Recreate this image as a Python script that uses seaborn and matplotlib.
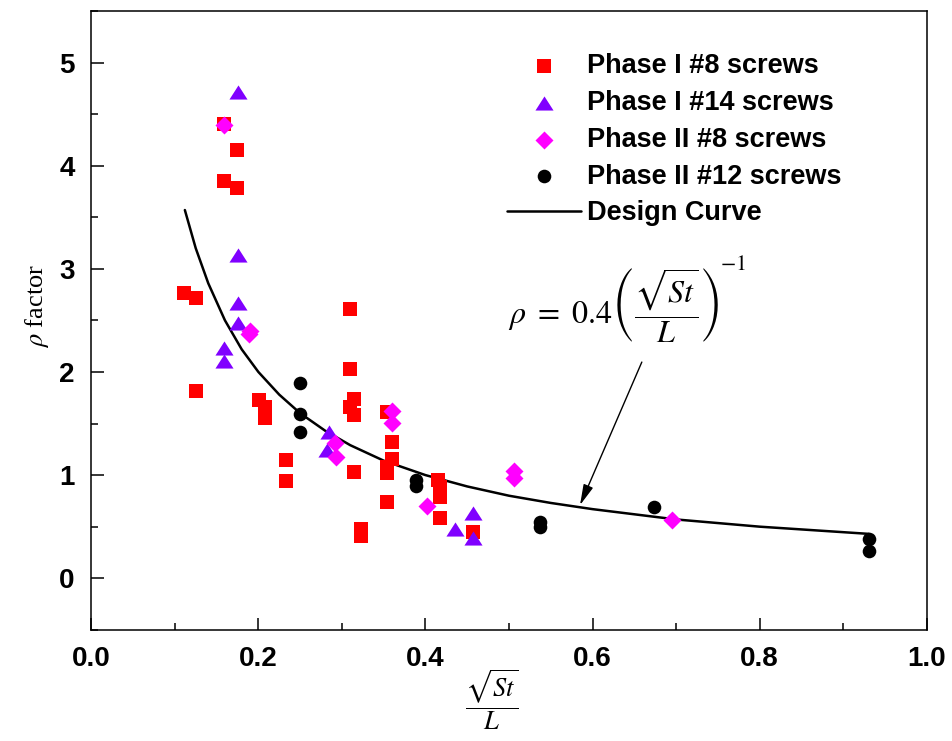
import numpy as np
import pandas as pd
import matplotlib
matplotlib.use("Agg")
import matplotlib.pyplot as plt
from matplotlib.path import Path
import seaborn as sns

# ---- data ----
p1_8_x = [0.159, 0.175, 0.159, 0.175, 0.111, 0.125, 0.310, 0.310, 0.125, 0.201,
          0.208, 0.208, 0.314, 0.310, 0.314, 0.233, 0.233, 0.314, 0.323, 0.323,
          0.354, 0.360, 0.360, 0.354, 0.354, 0.354, 0.415, 0.417, 0.417, 0.417, 0.457]
p1_8_y = [4.40, 4.15, 3.85, 3.78, 2.77, 2.72, 2.61, 2.03, 1.82, 1.73,
          1.66, 1.55, 1.74, 1.66, 1.58, 1.15, 0.94, 1.03, 0.48, 0.41,
          1.61, 1.32, 1.16, 1.08, 1.02, 0.74, 0.95, 0.88, 0.79, 0.58, 0.45]

p1_14_x = [0.176, 0.176, 0.176, 0.176, 0.159, 0.159, 0.284, 0.282, 0.435, 0.457, 0.457]
p1_14_y = [4.71, 3.13, 2.67, 2.47, 2.23, 2.11, 1.42, 1.24, 0.48, 0.63, 0.39]

p2_8_x = [0.159, 0.189, 0.190, 0.292, 0.293, 0.360, 0.360, 0.402, 0.506, 0.506, 0.695]
p2_8_y = [4.39, 2.37, 2.40, 1.31, 1.18, 1.62, 1.51, 0.70, 1.04, 0.97, 0.56]

p2_12_x = [0.250, 0.250, 0.250, 0.389, 0.389, 0.537, 0.537, 0.674, 0.931, 0.931]
p2_12_y = [1.89, 1.59, 1.42, 0.95, 0.89, 0.55, 0.50, 0.69, 0.38, 0.26]

design_x = [0.112, 0.125, 0.14, 0.16, 0.18, 0.20, 0.225, 0.25, 0.28, 0.31,
            0.35, 0.40, 0.45, 0.50, 0.55, 0.60, 0.65, 0.70, 0.80, 0.931]
design_y = [3.57, 3.20, 2.86, 2.50, 2.22, 2.00, 1.78, 1.60, 1.43, 1.29,
            1.14, 1.00, 0.89, 0.80, 0.73, 0.67, 0.62, 0.57, 0.50, 0.43]

labels = ["Phase I #8 screws", "Phase I #14 screws", "Phase II #8 screws",
          "Phase II #12 screws", "Design Curve"]
colors = ["#FF0000", "#8000FF", "#FF00FF", "#000000"]
x_ticks = [0.0, 0.2, 0.4, 0.6, 0.8, 1.0]
y_ticks = [0, 1, 2, 3, 4, 5]

# ---- style ----
sns.set_theme(style="white")
plt.rcParams["font.family"] = ["Liberation Sans", "DejaVu Sans"]
plt.rcParams["mathtext.fontset"] = "stix"
for k in ["text.color", "axes.labelcolor", "xtick.color", "ytick.color"]:
    plt.rcParams[k] = "black"

W, H = 953, 741
fig = plt.figure(figsize=(W / 100, H / 100), dpi=100)
L_, R_, T_, B_ = 91.3, 926.7, 11, 629.8
ax = fig.add_axes([L_ / W, 1 - B_ / H, (R_ - L_) / W, (B_ - T_) / H])

# design curve (drawn first, underneath markers)
sns.lineplot(x=design_x, y=design_y, ax=ax, color="black", lw=1.8,
             sort=False, estimator=None, label=labels[4], zorder=2)

tri = Path([(-1.0, -0.78), (1.0, -0.78), (0.0, 0.78), (-1.0, -0.78)],
           [Path.MOVETO, Path.LINETO, Path.LINETO, Path.CLOSEPOLY])

series = [
    (p1_8_x, p1_8_y, "s", 88, colors[0], labels[0]),
    (p1_14_x, p1_14_y, tri, 170, colors[1], labels[1]),
    (p2_8_x, p2_8_y, "D", 84, colors[2], labels[2]),
    (p2_12_x, p2_12_y, "o", 96, colors[3], labels[3]),
]
for i, (xs, ys, mk, sz, c, lb) in enumerate(series):
    sns.scatterplot(x=xs, y=ys, ax=ax, marker=mk, s=sz, color=c,
                    linewidth=0, label=lb, zorder=3 + i)

ax.set_xlim(0, 1.0)
ax.set_ylim(-0.5, 5.5)
ax.set_xticks(x_ticks)
ax.set_xticklabels([f"{v:.1f}" for v in x_ticks])
ax.set_yticks(y_ticks)
ax.set_yticklabels([str(v) for v in y_ticks])
ax.set_xticks(np.arange(0.1, 1.0, 0.2), minor=True)
ax.set_yticks(np.arange(-0.5, 5.6, 1.0), minor=True)
ax.tick_params(axis="both", which="major", direction="in", length=9, width=1.1,
               color="black", labelcolor="black", labelsize=20, pad=12,
               top=False, right=False, bottom=True, left=True)
ax.tick_params(axis="both", which="minor", direction="in", length=5, width=1.1,
               color="black", top=False, right=False, bottom=True, left=True)
for lab in ax.get_xticklabels() + ax.get_yticklabels():
    lab.set_fontweight("bold")
for sp in ax.spines.values():
    sp.set_color("black")
    sp.set_linewidth(1.1)
ax.set_xlabel("")
ax.set_ylabel("")
ax.grid(False)

# axis labels
fig.text(37 / W, 1 - 306 / H, r"$\rho$ factor", rotation=90, ha="center", va="center",
         fontsize=19, color="black", family=["Liberation Serif", "DejaVu Serif"])
fig.text(492 / W, 1 - 700 / H, r"$\dfrac{\sqrt{St}}{L}$", ha="center", va="center",
         fontsize=19, color="black")

# annotation
ax.annotate("", xy=(0.585, 0.709), xytext=(0.659, 2.096),
            arrowprops=dict(arrowstyle="-|>,head_width=0.22,head_length=0.9",
                            color="black", lw=1.0, mutation_scale=14,
                            shrinkA=0, shrinkB=0))
fig.text(614 / W, 1 - 306 / H,
         r"$\rho\ =\ 0.4\left(\dfrac{\sqrt{St}}{L}\right)$",
         ha="center", va="center", fontsize=23, color="black")
fig.text(733 / W, 1 - 265 / H, r"$-1$", ha="center", va="center",
         fontsize=16, color="black")

# legend
handles, labs = ax.get_legend_handles_labels()
order = [labs.index(l) for l in labels]
leg = ax.legend([handles[i] for i in order], [labs[i] for i in order],
                loc="upper left", bbox_to_anchor=(507 / W, 1 - 53 / H),
                bbox_transform=fig.transFigure, frameon=False,
                prop=dict(family="Liberation Sans", weight="bold", size=19.5),
                handlelength=2.75, handletextpad=0.2, labelspacing=0.4,
                borderpad=0, borderaxespad=0, markerscale=1.0)
for t in leg.get_texts():
    t.set_color("black")

fig.savefig("out.png", dpi=100)
